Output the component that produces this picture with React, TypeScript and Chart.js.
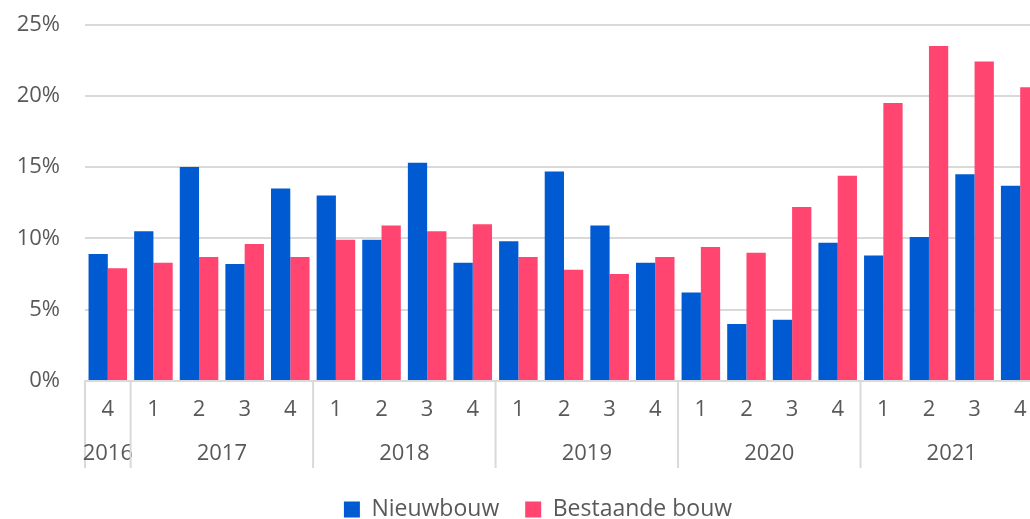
import React, { useEffect, useRef } from "react";
import { Chart, registerables } from "chart.js";

Chart.register(...registerables);

const quarterLabels = ["4", "1", "2", "3", "4", "1", "2", "3", "4", "1", "2", "3", "4", "1", "2", "3", "4", "1", "2", "3", "4"];
const yearLabels = ["2016", "2017", "2018", "2019", "2020", "2021"];
const quartersPerYear = [1, 4, 4, 4, 4, 4];
const nieuwbouw = [8.9, 10.5, 15.0, 8.2, 13.5, 13.0, 9.9, 15.3, 8.3, 9.8, 14.7, 10.9, 8.3, 6.2, 4.0, 4.3, 9.7, 8.8, 10.1, 14.5, 13.7];
const bestaandeBouw = [7.9, 8.3, 8.7, 9.6, 8.7, 9.9, 10.9, 10.5, 11.0, 8.7, 7.8, 7.5, 8.7, 9.4, 9.0, 12.2, 14.4, 19.5, 23.5, 22.4, 20.6];
const seriesNames = ["Nieuwbouw", "Bestaande bouw"];
const yTicks = [0, 5, 10, 15, 20, 25];

const FONT = "'Open Sans', 'Liberation Sans', sans-serif";
const TEXT = "#595959";
const GRID = "#d9d9d9";

const yearPlugin = {
  id: "yearGroups",
  afterDraw(chart: any) {
    const { ctx, chartArea } = chart;
    const x = chart.scales.x;
    const bottom = chartArea.bottom;
    const half = (x.getPixelForValue(1) - x.getPixelForValue(0)) / 2;
    ctx.save();
    ctx.strokeStyle = GRID;
    ctx.lineWidth = 2;
    ctx.fillStyle = TEXT;
    ctx.font = `22px ${FONT}`;
    ctx.textAlign = "center";
    ctx.textBaseline = "middle";
    let start = 0;
    for (let i = 0; i < yearLabels.length; i++) {
      const n = quartersPerYear[i];
      const left = x.getPixelForValue(start) - half;
      const right = x.getPixelForValue(start + n - 1) + half;
      ctx.beginPath();
      ctx.moveTo(left, bottom);
      ctx.lineTo(left, bottom + 87);
      ctx.stroke();
      ctx.fillText(yearLabels[i], (left + right) / 2, bottom + 73);
      start += n;
    }
    ctx.restore();
  },
};

export default function App() {
  const ref = useRef<HTMLCanvasElement>(null);
  useEffect(() => {
    if (!ref.current) return;
    const chart = new Chart(ref.current, {
      type: "bar",
      data: {
        labels: quarterLabels,
        datasets: [
          { label: seriesNames[0], data: nieuwbouw, backgroundColor: "#005bd3", borderWidth: 0 },
          { label: seriesNames[1], data: bestaandeBouw, backgroundColor: "#ff4570", borderWidth: 0 },
        ],
      },
      options: {
        responsive: false,
        maintainAspectRatio: false,
        animation: false,
        devicePixelRatio: 1,
        layout: { padding: { top: 24.5, left: 0, right: 0, bottom: 0 } },
        datasets: { bar: { barPercentage: 1, categoryPercentage: 0.845 } },
        plugins: {
          tooltip: { enabled: false },
          legend: {
            position: "bottom",
            labels: {
              boxWidth: 16,
              boxHeight: 16,
              padding: 26,
              color: TEXT,
              font: { family: FONT, size: 23 },
            },
          },
        },
        scales: {
          x: {
            grid: { display: false, drawTicks: false },
            border: { display: true, color: GRID, width: 2 },
            ticks: { color: TEXT, font: { family: FONT, size: 22 }, padding: 16, maxRotation: 0, autoSkip: false },
            afterFit: (s: any) => { s.height = 91; },
          },
          y: {
            min: 0,
            max: 25,
            afterBuildTicks: (s: any) => { s.ticks = yTicks.map((v) => ({ value: v })); },
            grid: { color: GRID, lineWidth: 2, drawTicks: true, tickLength: 25, tickColor: "rgba(0,0,0,0)" },
            border: { display: false },
            ticks: { color: TEXT, font: { family: FONT, size: 22 }, padding: 0, callback: (v: any) => v + "%" },
            afterFit: (s: any) => { s.width = 85; },
          },
          yR: {
            position: "right",
            display: true,
            grid: { display: false, drawTicks: false },
            border: { display: false },
            ticks: { display: false, padding: 0 },
            afterFit: (s: any) => { s.width = 33; },
          },
        },
      },
      plugins: [yearPlugin],
    });
    return () => chart.destroy();
  }, []);
  return (
    <div style={{ position: "fixed", left: 0, top: 0, width: 1030, height: 519, overflow: "hidden", background: "#fff" }}>
      <canvas ref={ref} width={1076} height={531} style={{ width: 1076, height: 531, display: "block" }} />
    </div>
  );
}
